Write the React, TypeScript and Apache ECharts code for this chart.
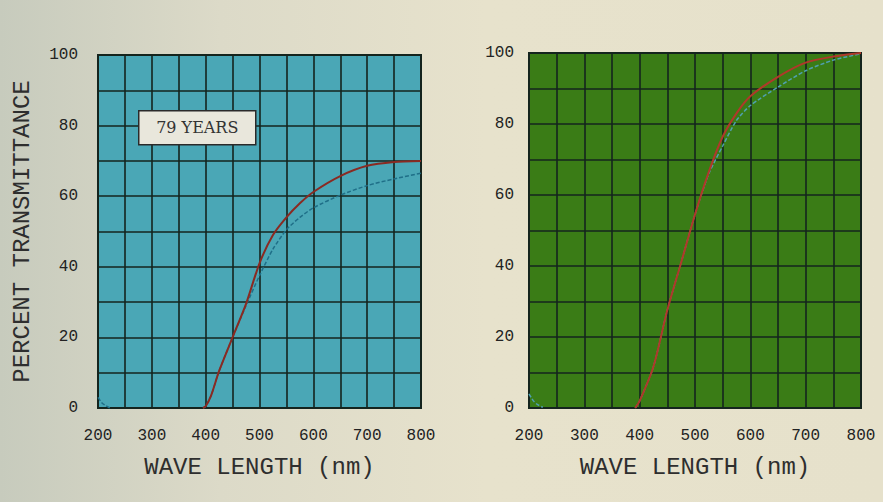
import React, { useEffect, useRef } from "react";
import * as echarts from "echarts";

// Left panel (79 years). null breaks the trace where it runs along the axis.
const leftWave = [200, 207, 215, 222, 228, 395, 400, 410, 425, 450, 475, 500, 525, 550, 575, 600, 650, 700, 750, 800];
const leftRed = [null, null, null, null, null, 0, 0.5, 3.5, 10.5, 20, 29.5, 41, 49, 54, 58, 61.2, 65.7, 68.6, 69.7, 70];
const leftBlue = [3, 1.5, 0.6, 0, null, 0, 0.5, 3.5, 10.5, 20, 29, 37.5, 45, 50.5, 54, 56.7, 60.3, 63, 64.9, 66.5];

// Right panel
const rightWave = [200, 208, 215, 225, 232, 392, 400, 425, 450, 475, 500, 525, 550, 575, 600, 650, 700, 750, 800];
const rightRed = [null, null, null, null, null, 0, 2, 11.7, 27.6, 41, 54.5, 66.5, 76.4, 83, 87.8, 93.3, 97.3, 99, 100];
const rightBlue = [4, 2, 1, 0.2, null, 0, 2, 11.7, 27.6, 41, 54.5, 66, 73.8, 81, 85.2, 90.4, 95, 98, 99.8];

const xTicks = [200, 300, 400, 500, 600, 700, 800];
const yTicks = [0, 20, 40, 60, 80, 100];
const ageLabel = "79 YEARS";

const MONO = "'Liberation Mono', 'DejaVu Sans Mono', monospace";
const GRIDC = "#14241e";

function pairs(xs: number[], ys: (number | null)[]) {
  return xs.map((x, i) => [x, ys[i]]);
}

function xAxis(gridIndex: number) {
  return {
    type: "value",
    gridIndex,
    min: 200,
    max: 800,
    interval: 50,
    name: "WAVE LENGTH (nm)",
    nameLocation: "middle",
    nameGap: 47,
    nameTextStyle: { fontFamily: MONO, fontSize: 24, color: "#2e2e2e" },
    axisLine: { show: true, lineStyle: { color: GRIDC, width: 2 } },
    axisTick: { show: false },
    splitLine: { show: true, lineStyle: { color: GRIDC, width: 1.6 } },
    axisLabel: {
      margin: 20,
      fontFamily: MONO,
      fontSize: 16,
      color: "#222",
      formatter: (v: number) => (xTicks.includes(v) ? String(v) : ""),
    },
  };
}

function yAxis(gridIndex: number, withName: boolean, margin: number) {
  return {
    type: "value",
    gridIndex,
    min: 0,
    max: 100,
    interval: 10,
    name: withName ? "PERCENT TRANSMITTANCE" : "",
    nameLocation: "middle",
    nameGap: 64,
    nameTextStyle: { fontFamily: MONO, fontSize: 24, color: "#2e2e2e" },
    axisLine: { show: true, lineStyle: { color: GRIDC, width: 2 } },
    axisTick: { show: false },
    splitLine: { show: true, lineStyle: { color: GRIDC, width: 1.6 } },
    axisLabel: {
      margin,
      fontFamily: MONO,
      fontSize: 16,
      color: "#222",
      formatter: (v: number) => (yTicks.includes(v) ? String(v) : ""),
    },
  };
}

function line(idx: number, xs: number[], ys: (number | null)[], color: string, width: number, dashed: boolean) {
  return {
    type: "line",
    xAxisIndex: idx,
    yAxisIndex: idx,
    smooth: 0.25,
    connectNulls: false,
    symbol: "none",
    data: pairs(xs, ys),
    lineStyle: { color, width, type: dashed ? [4, 2] : "solid" },
  };
}

export default function App() {
  const ref = useRef<HTMLDivElement>(null);
  useEffect(() => {
    document.body.style.margin = "0";
    if (!ref.current) return;
    const chart = echarts.init(ref.current, undefined, { renderer: "svg" });
    chart.setOption({
      animation: false,
      grid: [
        { left: 98, top: 55, width: 323, height: 353, show: true, backgroundColor: "#4aa7b6", borderColor: GRIDC, borderWidth: 2 },
        { left: 529, top: 53, width: 332, height: 355, show: true, backgroundColor: "#3a7c16", borderColor: GRIDC, borderWidth: 2 },
      ],
      xAxis: [xAxis(0), xAxis(1)],
      yAxis: [yAxis(0, true, 20), yAxis(1, false, 15)],
      series: [
        line(0, leftWave, leftBlue, "#1f6f88", 1.5, true),
        line(0, leftWave, leftRed, "#8a2a22", 2, false),
        line(1, rightWave, rightBlue, "#4fa0b0", 1.5, true),
        line(1, rightWave, rightRed, "#b0382a", 2, false),
      ],
      graphic: [
        {
          type: "group",
          left: 138,
          top: 110,
          z: 100,
          children: [
            { type: "rect", z: 100, shape: { x: 0, y: 0, width: 117, height: 34 }, style: { fill: "#e9e7dc", stroke: "#2a2a2a", lineWidth: 1.5 } },
            {
              type: "text", z: 101, x: 58.5, y: 17,
              style: { text: ageLabel, fontFamily: "'DejaVu Serif', serif", fontSize: 16, fill: "#333", align: "center", verticalAlign: "middle" },
            },
          ],
        },
      ],
    });
    return () => chart.dispose();
  }, []);
  return (
    <div
      style={{
        width: 883,
        height: 502,
        background: "linear-gradient(90deg, #c7cbbd 0%, #dcdac8 25%, #e7e2cc 55%, #e6e1cb 100%)",
      }}
    >
      <div ref={ref} style={{ width: 883, height: 502 }} />
    </div>
  );
}
